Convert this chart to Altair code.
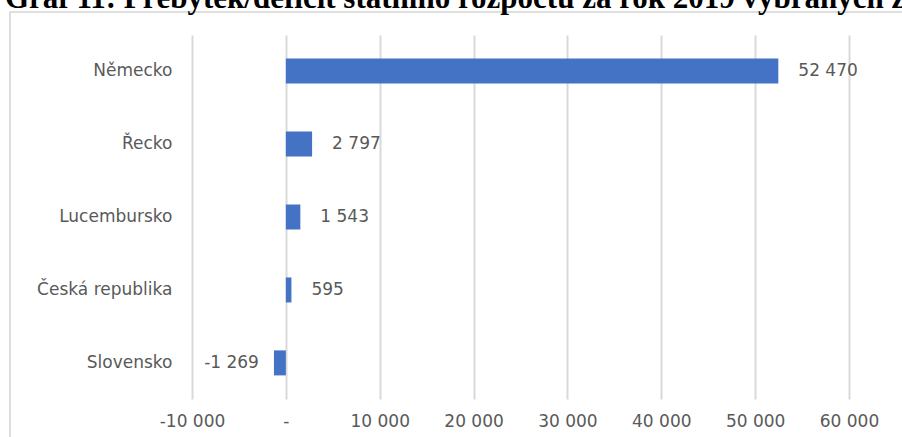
import altair as alt
import pandas as pd

countries = ["Německo", "Řecko", "Lucembursko", "Česká republika", "Slovensko"]
values = [52470, 2797, 1543, 595, -1269]
value_labels = ["52 470", "2 797", "1 543", "595", "-1 269"]
tick_values = [-10000, 0, 10000, 20000, 30000, 40000, 50000, 60000]
title_text = "Graf 11: Přebytek/deficit státního rozpočtu za rok 2019 vybraných zemí"

df = pd.DataFrame({"country": countries, "value": values, "label": value_labels})

FONT = "DejaVu Sans"
GRAY = "#595959"
FS = 17

x_enc = alt.X(
    "value:Q",
    scale=alt.Scale(domain=[-10000, 60000], nice=False, zero=False),
    axis=alt.Axis(
        values=tick_values,
        grid=True,
        gridColor="#d9d9d9",
        gridWidth=2,
        domain=False,
        ticks=False,
        labelFlush=False,
        labelPadding=14,
        labelFont=FONT,
        labelFontSize=FS,
        labelColor=GRAY,
        labelExpr="datum.value == 0 ? '-' : replace(replace(format(datum.value, ','), ',', ' '), '−', '-')",
        title=None,
    ),
)
y_enc = alt.Y(
    "country:N",
    sort=countries,
    scale=alt.Scale(paddingInner=0.65, paddingOuter=0.32),
    axis=alt.Axis(
        domain=False,
        ticks=False,
        grid=False,
        labelPadding=20,
        labelFont=FONT,
        labelFontSize=FS,
        labelColor=GRAY,
        title=None,
    ),
)

base = alt.Chart(df)

frame = alt.Chart(pd.DataFrame({"a": [0]})).mark_rect(
    fill=None, stroke="#d4d4d4", strokeWidth=1.5
).encode(
    x=alt.value(-182), x2=alt.value(2000), y=alt.value(-23), y2=alt.value(2000)
)

title_mark = alt.Chart(pd.DataFrame({"t": [title_text]})).mark_text(
    align="left", baseline="alphabetic", font="Liberation Serif",
    fontSize=31, fontWeight="bold", color="black"
).encode(x=alt.value(-187), y=alt.value(-27), text="t:N")

bars = base.mark_bar(size=25, color="#4472C4").encode(x=x_enc, y=y_enc)

text_pos = base.transform_filter("datum.value >= 0").mark_text(
    align="left", dx=20, font=FONT, fontSize=FS, color=GRAY
).encode(x="value:Q", y=alt.Y("country:N", sort=countries), text="label:N")

text_neg = base.transform_filter("datum.value < 0").mark_text(
    align="right", dx=-15, font=FONT, fontSize=FS, color=GRAY
).encode(x="value:Q", y=alt.Y("country:N", sort=countries), text="label:N")

chart = alt.layer(frame, title_mark, bars, text_pos, text_neg).properties(
    width=657,
    height=364,
    autosize=alt.AutoSizeParams(type="none"),
    padding={"left": 192, "top": 35, "right": 53, "bottom": 38},
).configure_view(stroke=None)

chart.save("out.html", embed_options={"renderer": "svg", "actions": False})
